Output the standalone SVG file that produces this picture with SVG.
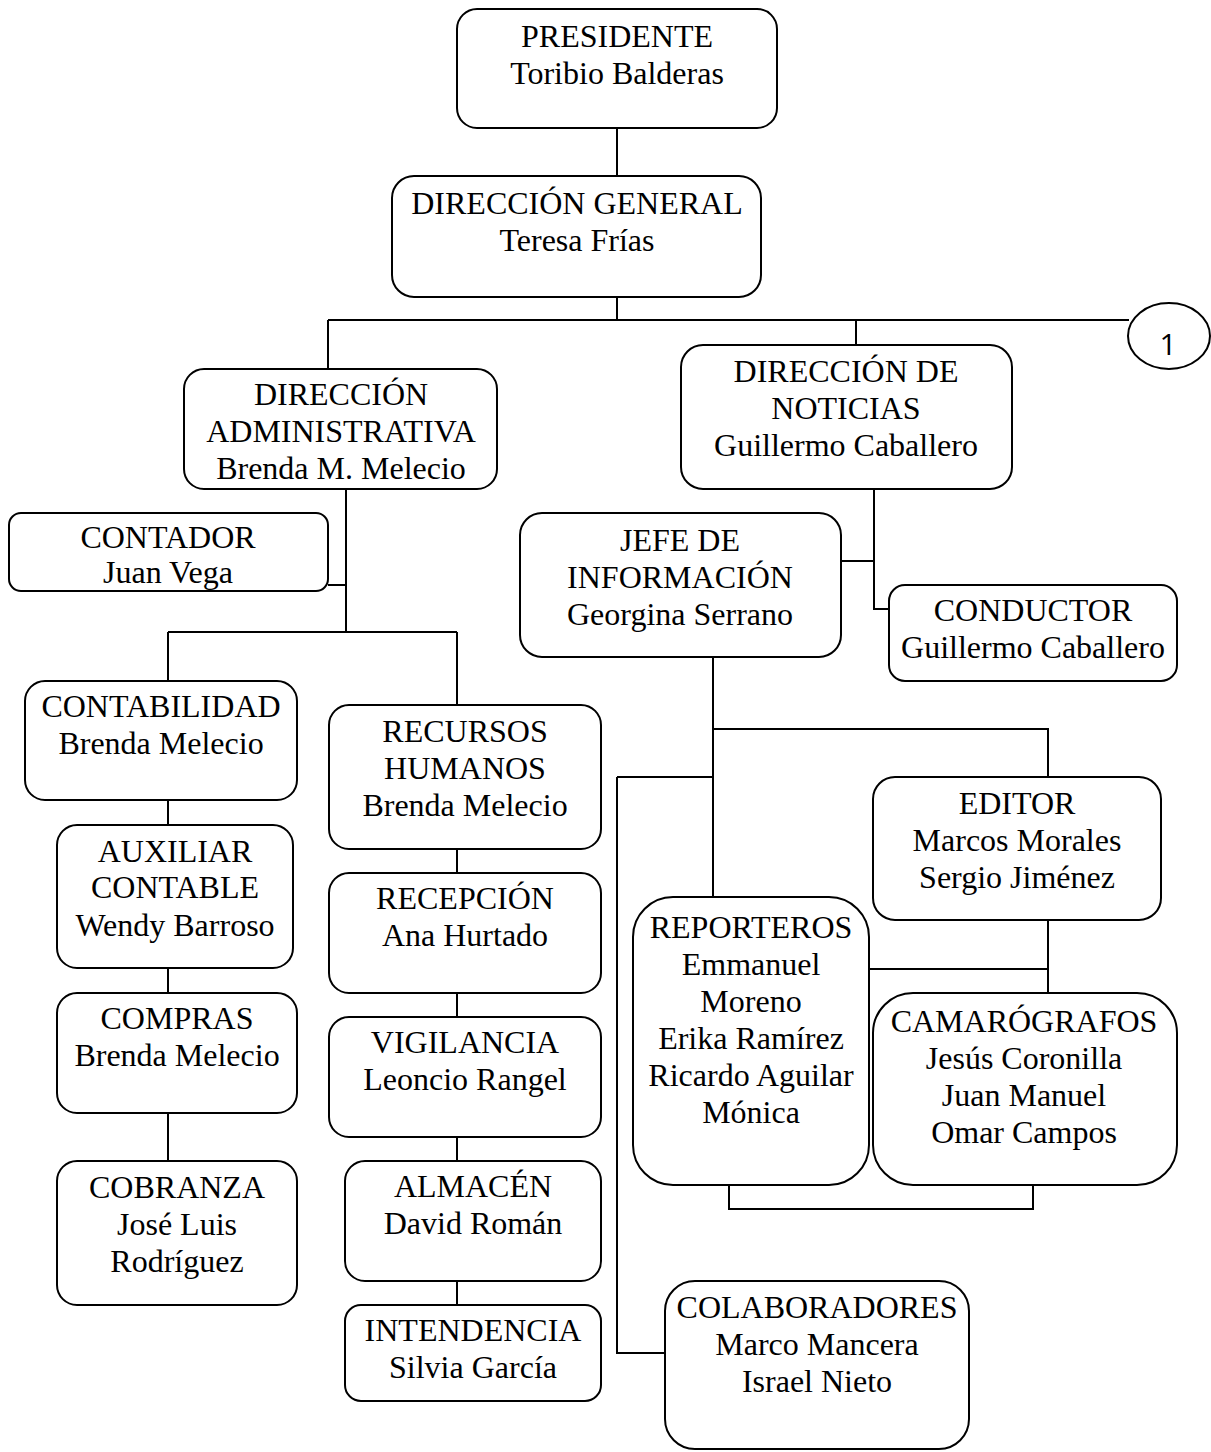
<svg xmlns="http://www.w3.org/2000/svg" width="1211" height="1452" viewBox="0 0 1211 1452">
<style>
.b{fill:#fff;stroke:#000;stroke-width:2}
.c{fill:none;stroke:#000;stroke-width:2}
text{font-family:"Liberation Serif","Times New Roman",serif;font-size:32px;fill:#000;text-anchor:middle}
text.s{font-family:"Open Sans","DejaVu Sans",sans-serif;font-size:30px}
</style>
<rect width="1211" height="1452" fill="#fff"/>
<g id="connectors" class="c">
<path d="M617 128V176"/>
<path d="M617 297V320M328 320H1129M328 320V369M856 320V345"/>
<path d="M346 489V632M328 585H346M168 632H457M168 632V681M457 632V705"/>
<path d="M168 800V825M168 968V993M168 1113V1161"/>
<path d="M457 849V873M457 993V1017M457 1137V1161M457 1281V1305"/>
<path d="M874 489V609H889M841 561H874"/>
<path d="M713 657V897M713 729H1048V777M617 777H713M617 777V1353H665"/>
<path d="M1048 920V993M869 969H1048"/>
<path d="M729 1185V1209H1033V1185"/>
</g>
<g id="circle1"><ellipse class="b" cx="1169" cy="336" rx="41" ry="33"/><text class="s" x="1168" y="355">1</text></g>
<g id="presidente"><rect class="b" x="457" y="9" width="320" height="119" rx="20"/><text x="617" y="47">PRESIDENTE</text><text x="617" y="84">Toribio Balderas</text></g>
<g id="direccion-general"><rect class="b" x="392" y="176" width="369" height="121" rx="22"/><text x="577" y="214">DIRECCIÓN GENERAL</text><text x="577" y="251">Teresa Frías</text></g>
<g id="direccion-administrativa"><rect class="b" x="184" y="369" width="313" height="120" rx="20"/><text x="341" y="405">DIRECCIÓN</text><text x="341" y="442">ADMINISTRATIVA</text><text x="341" y="479">Brenda M. Melecio</text></g>
<g id="direccion-noticias"><rect class="b" x="681" y="345" width="331" height="144" rx="22"/><text x="846" y="382">DIRECCIÓN DE</text><text x="846" y="419">NOTICIAS</text><text x="846" y="456">Guillermo Caballero</text></g>
<g id="contador"><rect class="b" x="9" y="513" width="319" height="78" rx="12"/><text x="168" y="548">CONTADOR</text><text x="168" y="583">Juan Vega</text></g>
<g id="contabilidad"><rect class="b" x="25" y="681" width="272" height="119" rx="20"/><text x="161" y="717">CONTABILIDAD</text><text x="161" y="754">Brenda Melecio</text></g>
<g id="auxiliar"><rect class="b" x="57" y="825" width="236" height="143" rx="20"/><text x="175" y="862">AUXILIAR</text><text x="175" y="898">CONTABLE</text><text x="175" y="936">Wendy Barroso</text></g>
<g id="compras"><rect class="b" x="57" y="993" width="240" height="120" rx="20"/><text x="177" y="1029">COMPRAS</text><text x="177" y="1066">Brenda Melecio</text></g>
<g id="cobranza"><rect class="b" x="57" y="1161" width="240" height="144" rx="20"/><text x="177" y="1198">COBRANZA</text><text x="177" y="1235">José Luis</text><text x="177" y="1272">Rodríguez</text></g>
<g id="recursos-humanos"><rect class="b" x="329" y="705" width="272" height="144" rx="20"/><text x="465" y="742">RECURSOS</text><text x="465" y="779">HUMANOS</text><text x="465" y="816">Brenda Melecio</text></g>
<g id="recepcion"><rect class="b" x="329" y="873" width="272" height="120" rx="20"/><text x="465" y="909">RECEPCIÓN</text><text x="465" y="946">Ana Hurtado</text></g>
<g id="vigilancia"><rect class="b" x="329" y="1017" width="272" height="120" rx="20"/><text x="465" y="1053">VIGILANCIA</text><text x="465" y="1090">Leoncio Rangel</text></g>
<g id="almacen"><rect class="b" x="345" y="1161" width="256" height="120" rx="20"/><text x="473" y="1197">ALMACÉN</text><text x="473" y="1234">David Román</text></g>
<g id="intendencia"><rect class="b" x="345" y="1305" width="256" height="96" rx="16"/><text x="473" y="1341">INTENDENCIA</text><text x="473" y="1378">Silvia García</text></g>
<g id="jefe-informacion"><rect class="b" x="520" y="513" width="321" height="144" rx="22"/><text x="680" y="551">JEFE DE</text><text x="680" y="588">INFORMACIÓN</text><text x="680" y="625">Georgina Serrano</text></g>
<g id="conductor"><rect class="b" x="889" y="585" width="288" height="96" rx="16"/><text x="1033" y="621">CONDUCTOR</text><text x="1033" y="658">Guillermo Caballero</text></g>
<g id="editor"><rect class="b" x="873" y="777" width="288" height="143" rx="22"/><text x="1017" y="814">EDITOR</text><text x="1017" y="851">Marcos Morales</text><text x="1017" y="888">Sergio Jiménez</text></g>
<g id="reporteros"><rect class="b" x="633" y="897" width="236" height="288" rx="40"/><text x="751" y="938">REPORTEROS</text><text x="751" y="975">Emmanuel</text><text x="751" y="1012">Moreno</text><text x="751" y="1049">Erika Ramírez</text><text x="751" y="1086">Ricardo Aguilar</text><text x="751" y="1123">Mónica</text></g>
<g id="camarografos"><rect class="b" x="873" y="993" width="304" height="192" rx="40"/><text x="1024" y="1032">CAMARÓGRAFOS</text><text x="1024" y="1069">Jesús Coronilla</text><text x="1024" y="1106">Juan Manuel</text><text x="1024" y="1143">Omar Campos</text></g>
<g id="colaboradores"><rect class="b" x="665" y="1281" width="304" height="168" rx="30"/><text x="817" y="1318">COLABORADORES</text><text x="817" y="1355">Marco Mancera</text><text x="817" y="1392">Israel Nieto</text></g>
</svg>
